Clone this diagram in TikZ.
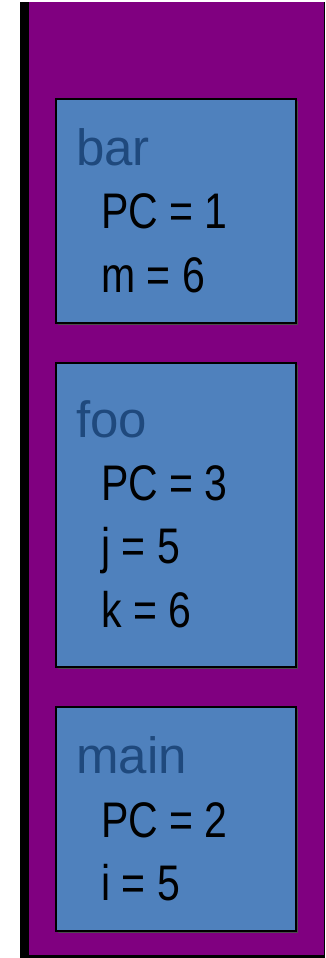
\documentclass[tikz,border=0pt]{standalone}
\usepackage{fontspec}
\setmainfont{Liberation Sans}
\newfontfamily\bodyfont{Liberation Sans}[FakeStretch=0.82]
\definecolor{stackpurple}{RGB}{128,0,128}
\definecolor{framefill}{RGB}{79,129,189}
\definecolor{titleblue}{RGB}{31,73,125}
\tikzset{
  framebox/.style={draw=black, line width=1.5pt, fill=framefill},
  titletext/.style={anchor=base west, inner sep=0pt, text=titleblue, font=\fontsize{51}{51}\selectfont},
  bodytext/.style={anchor=base west, inner sep=0pt, text=black, font=\bodyfont\fontsize{50}{50}\selectfont},
}
\begin{document}
\begin{tikzpicture}[x=1pt,y=-1pt]
\useasboundingbox (0,0) rectangle (325,958);
% stack background
\fill[black] (20,2) rectangle (325,958);
\fill[stackpurple] (29,2) rectangle (324,955);
% frames
\fill[black!70] (58,101) rectangle (298,325);
\draw[framebox] (56,99) rectangle (296,323);
\fill[black!70] (58,365) rectangle (298,669);
\draw[framebox] (56,363) rectangle (296,667);
\fill[black!70] (58,709) rectangle (298,933);
\draw[framebox] (56,707) rectangle (296,931);
% bar
\node[titletext] (bart) at (76,165) {bar};
\node[bodytext] (barpc) at (101,228) {PC = 1};
\node[bodytext] (barm) at (101,292) {m = 6};
% foo
\node[titletext] (foot) at (76,437) {foo};
\node[bodytext] (foopc) at (101,500) {PC = 3};
\node[bodytext] (fooj) at (101,563) {j = 5};
\node[bodytext] (fook) at (101,627) {k = 6};
% main
\node[titletext] (maint) at (76,773) {main};
\node[bodytext] (mainpc) at (101,837) {PC = 2};
\node[bodytext] (maini) at (101,900) {i = 5};
\end{tikzpicture}
\end{document}
